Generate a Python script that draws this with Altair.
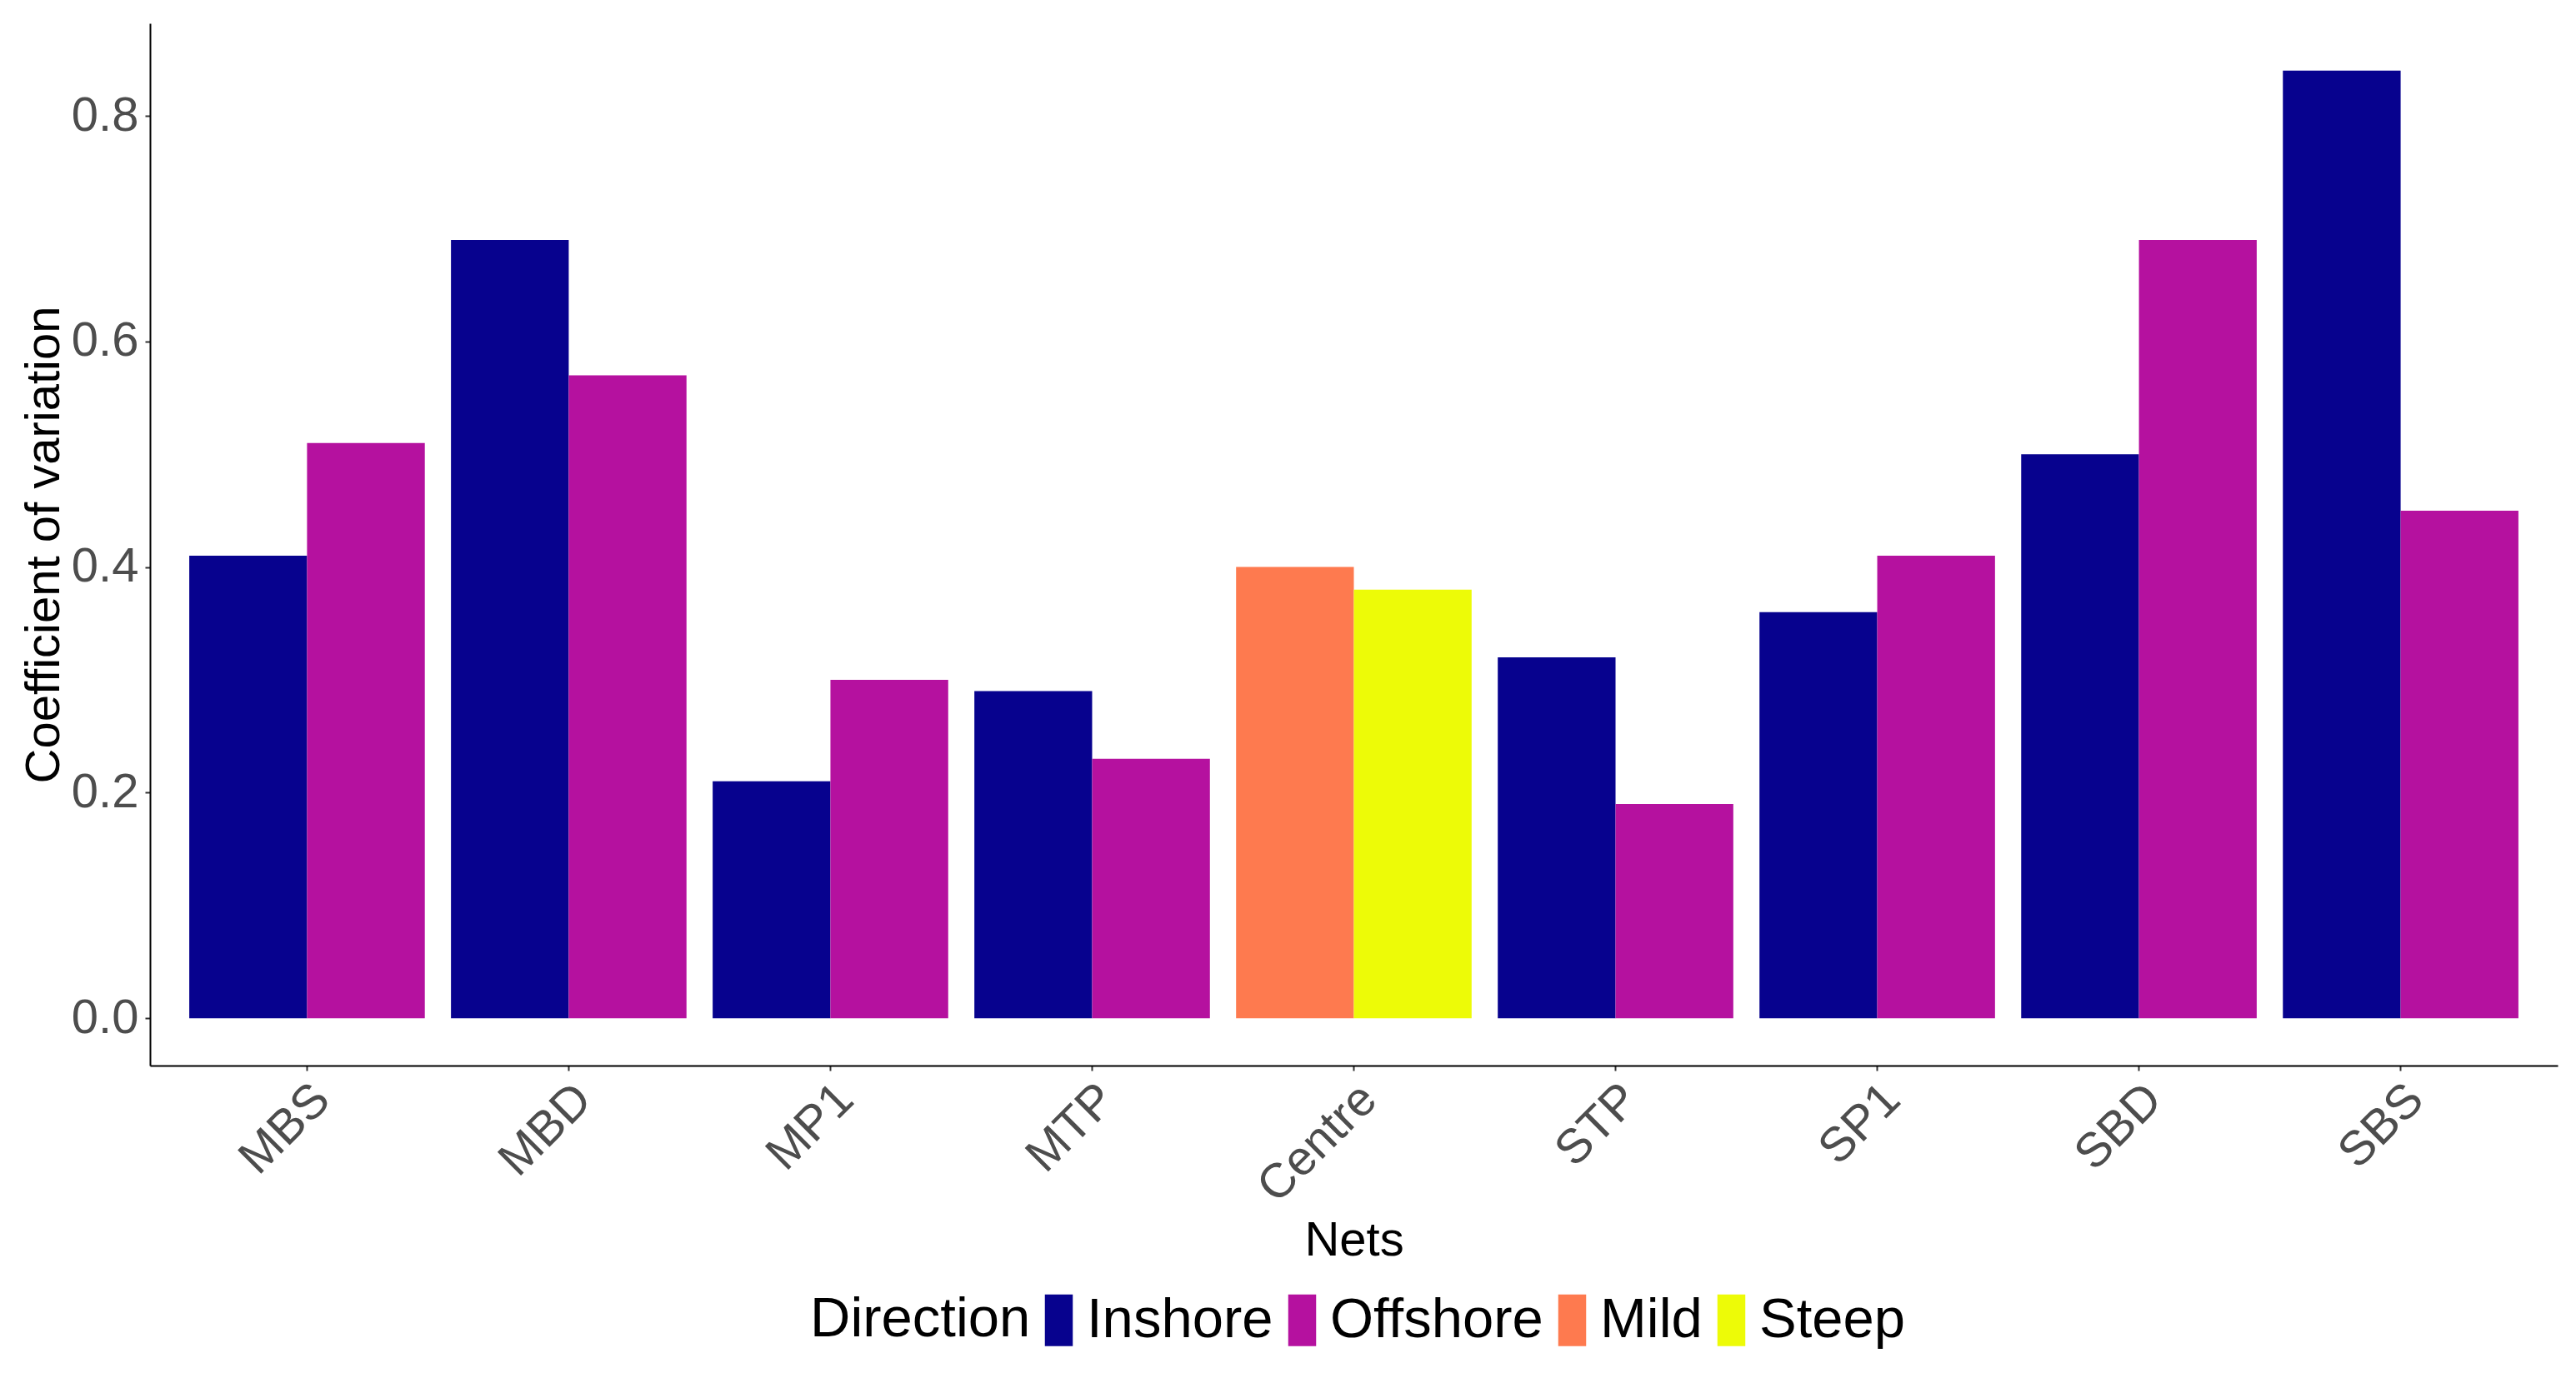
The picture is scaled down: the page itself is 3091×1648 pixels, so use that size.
import altair as alt
import pandas as pd

nets = ["MBS", "MBD", "MP1", "MTP", "Centre", "STP", "SP1", "SBD", "SBS"]
first_dir = ["Inshore", "Inshore", "Inshore", "Inshore", "Mild", "Inshore", "Inshore", "Inshore", "Inshore"]
second_dir = ["Offshore", "Offshore", "Offshore", "Offshore", "Steep", "Offshore", "Offshore", "Offshore", "Offshore"]
first_vals = [0.41, 0.69, 0.21, 0.29, 0.40, 0.32, 0.36, 0.50, 0.84]
second_vals = [0.51, 0.57, 0.30, 0.23, 0.38, 0.19, 0.41, 0.69, 0.45]

directions = ["Inshore", "Offshore", "Mild", "Steep"]
dir_colors = ["#07028E", "#B5119F", "#FE7A4F", "#EDFB07"]
y_ticks = [0.0, 0.2, 0.4, 0.6, 0.8]

rows = []
for i, n in enumerate(nets):
    rows.append({"Nets": n, "slot": 0, "Direction": first_dir[i], "cv": first_vals[i]})
    rows.append({"Nets": n, "slot": 1, "Direction": second_dir[i], "cv": second_vals[i]})
df = pd.DataFrame(rows)

FONT = "Liberation Sans"

chart = alt.Chart(df).mark_bar().encode(
    x=alt.X(
        "Nets:N",
        sort=nets,
        scale=alt.Scale(paddingInner=0.1, paddingOuter=0.15),
        axis=alt.Axis(
            title="Nets",
            labelAngle=-45,
            labelAlign="right",
            labelBaseline="top",
            labelFontSize=58,
            labelColor="#4D4D4D",
            labelPadding=5,
            labelOffset=-2,
            tickColor="#333333",
            tickSize=6,
            tickWidth=2,
            domainColor="black",
            domainWidth=2,
            titleFontSize=58,
            titleFontWeight="normal",
            titleColor="black",
            titleBaseline="alphabetic",
            titleY=227,
            grid=False,
        ),
    ),
    xOffset=alt.XOffset("slot:O", scale=alt.Scale(paddingInner=0, paddingOuter=0)),
    y=alt.Y(
        "cv:Q",
        scale=alt.Scale(domain=[-0.042, 0.882], nice=False),
        axis=alt.Axis(
            title="Coefficient of variation",
            values=y_ticks,
            format=".1f",
            labelFontSize=58,
            labelColor="#4D4D4D",
            labelPadding=8,
            tickColor="#333333",
            tickSize=6,
            tickWidth=2,
            domainColor="black",
            domainWidth=2,
            titleFontSize=58,
            titleFontWeight="normal",
            titleColor="black",
            titleBaseline="alphabetic",
            titleX=-110,
            grid=False,
        ),
    ),
    y2=alt.datum(0),
    color=alt.Color(
        "Direction:N",
        scale=alt.Scale(domain=directions, range=dir_colors),
        legend=alt.Legend(
            title="Direction",
            orient="none",
            legendX=792,
            legendY=1523,
            direction="horizontal",
            titleOrient="left",
            titleAnchor="middle",
            titleBaseline="middle",
            titleFontSize=67,
            titleFontWeight="normal",
            titleColor="black",
            titlePadding=0,
            titleLimit=1000,
            labelFontSize=67,
            labelColor="black",
            labelLimit=1000,
            labelOffset=0,
            columnPadding=1,
            symbolType="M-0.54,-1L0.54,-1L0.54,1L-0.54,1Z",
            symbolSize=3844,
            symbolStrokeWidth=0,
            symbolOpacity=1,
            padding=0,
        ),
    ),
).properties(
    width=2889,
    height=1251,
    padding={"left": 172, "top": 20, "right": 14, "bottom": 355},
    autosize=alt.AutoSizeParams(type="none"),
).configure(
    font=FONT,
).configure_view(
    stroke=None,
)

chart.save("out.html", embed_options={"renderer": "svg", "actions": False})
